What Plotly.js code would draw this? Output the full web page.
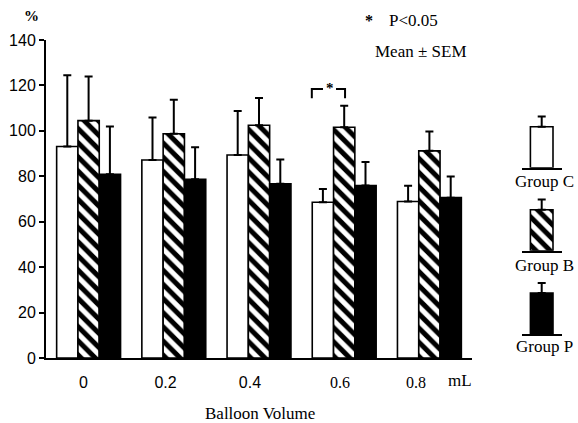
<!DOCTYPE html>
<html>
<head>
<meta charset="utf-8">
<script src="https://cdn.plot.ly/plotly-3.0.1.min.js"></script>
<style>html,body{margin:0;padding:0;background:#fff;}#chart{width:578px;height:423px;}</style>
</head>
<body>
<div id="chart"></div>
<script>
// ---- data ----
const categories = ["0", "0.2", "0.4", "0.6", "0.8"];
const groupC = [93.1, 87.2, 89.4, 68.6, 68.9];
const semC   = [31.4, 18.7, 19.3, 5.8, 6.9];
const groupB = [104.5, 98.7, 102.5, 101.6, 91.2];
const semB   = [19.4, 15.0, 12.0, 9.4, 8.5];
const groupP = [80.9, 78.7, 76.7, 75.9, 70.6];
const semP   = [21.0, 14.1, 10.7, 10.4, 9.3];
const yTicks = [0, 20, 40, 60, 80, 100, 120, 140];
const legendNames = ["Group C", "Group B", "Group P"];
const legendValue = [18];
const legendSem = [4.5];

// ---- layout helpers ----
const W = 578, H = 423, ML = 46, MR = 16, MT = 40, MB = 65;
const PW = W - ML - MR, PH = H - MT - MB;
const px = x => (x - ML) / PW;
const py = y => (H - MB - y) / PH;
const serif = "Liberation Serif, Times New Roman, serif";
const sans = "Liberation Sans, Arial, sans-serif";

const xi = categories.map((_, i) => i);
const tickShift = [-0.06, -0.097, -0.106, -0.049, -0.157];
const tickText = categories.map((c, i) => i >= 3 ? '<span style="font-family:Liberation Serif">' + c + '</span>' : c);

const outline = {color: "#000", width: 1.6};
const hatch = {shape: "\\", size: 10, solidity: 0.5, fgcolor: "#000", bgcolor: "#fff", fillmode: "replace"};
function eb(arr) {
  return {type: "data", symmetric: false, array: arr, arrayminus: arr.map(() => 0), color: "#000", thickness: 2, width: 4};
}
const fills = [
  {color: "#fff", line: outline},
  {color: "#fff", line: outline, pattern: hatch},
  {color: "#000", line: outline}
];

const traces = [
  {type: "bar", name: "Group C", x: xi, y: groupC, error_y: eb(semC), marker: fills[0]},
  {type: "bar", name: "Group B", x: xi, y: groupB, error_y: eb(semB), marker: fills[1]},
  {type: "bar", name: "Group P", x: xi, y: groupP, error_y: eb(semP), marker: fills[2]}
];

function note(text, x, y, size, extra) {
  return Object.assign({text: text, x: px(x), y: py(y), xref: "paper", yref: "paper", xanchor: "center", yanchor: "middle",
    showarrow: false, font: {family: serif, size: size, color: "#000"}}, extra || {});
}

// legend mini-bars, each in its own small axes
const legBase = [167.7, 250.7, 334];
const legText = [181.7, 265, 346.7];
const legX = [px(521.7), px(561.7)];
const layout = {
  width: W, height: H,
  margin: {l: ML, r: MR, t: MT, b: MB, pad: 0},
  paper_bgcolor: "#fff", plot_bgcolor: "#fff",
  showlegend: false,
  barmode: "group", bargap: 0.25, bargroupgap: 0,
  xaxis: {
    domain: [0, px(472)], range: [-0.5, 4.5], type: "linear",
    showline: true, linecolor: "#000", linewidth: 2,
    ticks: "outside", ticklen: 9, tickcolor: "rgba(0,0,0,0)",
    tickvals: xi.map((v, i) => v + tickShift[i]), ticktext: tickText,
    tickfont: {family: sans, size: 16, color: "#000"},
    showgrid: false, zeroline: false
  },
  yaxis: {
    domain: [0, 1], range: [0, 140],
    showline: true, linecolor: "#000", linewidth: 2,
    ticks: "outside", ticklen: 5, tickwidth: 2, tickcolor: "#000",
    tickvals: yTicks, ticktext: yTicks.map(String),
    tickfont: {family: sans, size: 16, color: "#000"},
    showgrid: false, zeroline: false
  },
  shapes: [
    {type: "path", xref: "x", yref: "y",
     path: "M 2.62 114.4 L 2.62 118.4 L 2.751 118.4 M 2.904 118.4 L 3.01 118.4 L 3.01 114.4",
     line: {color: "#000", width: 2}}
  ],
  annotations: [
    note("<b>%</b>", 31.5, 16.5, 15),
    note("<b>*</b>", 369, 20, 16),
    note("P&lt;0.05", 387, 20.7, 17, {xanchor: "left"}),
    note("Mean ± SEM", 420.5, 51.7, 17),
    note("Balloon Volume", 259.7, 413.5, 17),
    note("mL", 460, 380, 17),
    {text: "<b>*</b>", x: 2.83, y: 118.8, xref: "x", yref: "y", xanchor: "center", yanchor: "middle", showarrow: false,
     font: {family: serif, size: 15, color: "#000"}}
  ]
};

legendNames.forEach((name, k) => {
  const n = k + 2;
  const bottom = py(legBase[k]);
  const top = bottom + 25 / 140;
  layout["xaxis" + n] = {domain: legX, range: [-0.5, 0.5], anchor: "y" + n, showline: true, linecolor: "#000", linewidth: 2,
    showticklabels: false, ticks: "", showgrid: false, zeroline: false, fixedrange: true};
  layout["yaxis" + n] = {domain: [bottom, top], range: [0, 25], anchor: "x" + n, visible: false, fixedrange: true};
  traces.push({type: "bar", x: [0], y: legendValue, width: [0.565], xaxis: "x" + n, yaxis: "y" + n,
    error_y: eb(legendSem), marker: fills[k]});
  layout.annotations.push(note(name, 544.5, legText[k], 17));
});

Plotly.newPlot("chart", traces, layout, {displayModeBar: false, staticPlot: true});
</script>
</body>
</html>
